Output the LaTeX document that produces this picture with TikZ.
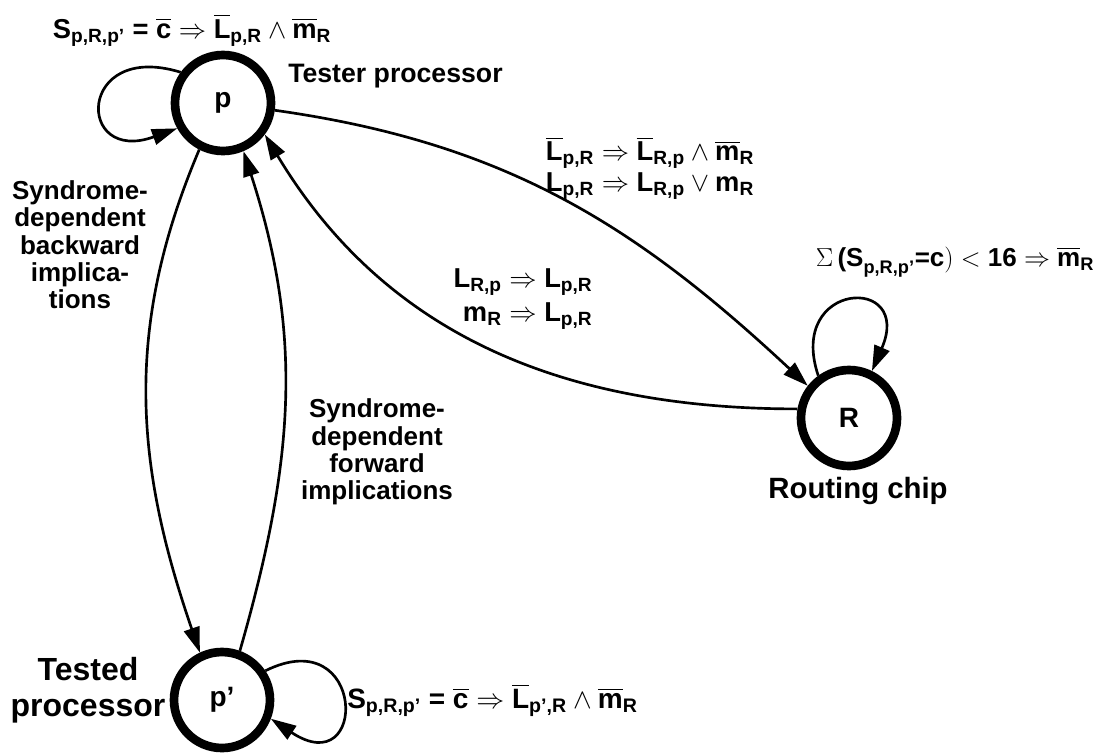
\RequirePackage{fix-cm}
\documentclass[tikz,border=0pt]{standalone}
\usepackage{amsmath}
\usepackage{fontspec}
\setmainfont{Liberation Sans}
\usetikzlibrary{arrows.meta}

% bold sans letters inside formulas
\newcommand{\tx}[1]{\text{#1}}
\newcommand{\nb}[1]{\overline{\text{#1}}}

\tikzset{
  state/.style={circle, draw, line width=6.5pt, minimum size=72pt, inner sep=0pt,
    font=\fontsize{21}{24}\selectfont\bfseries},
  lbl/.style={font=\fontsize{19.5}{20.5}\selectfont\bfseries, align=center, inner sep=0pt},
  rule/.style={font=\fontsize{20.5}{22}\selectfont\bfseries, align=center, inner sep=0pt},
  link/.style={line width=2pt, -{Triangle[length=19pt,width=12pt]}}
}

\begin{document}
\begin{tikzpicture}[x=0.75pt, y=0.75pt]
    \useasboundingbox (0,0) rectangle (1109,-753);

    % The three nodes
    \node[state] (p) at (223,-103) {p};
    \node[state] (R) at (849,-418) {R};
    \node[state] (pp) at (222,-700) {p’};

    % Names of the nodes
    \node[lbl, font=\fontsize{20}{22}\selectfont\bfseries, anchor=west] (tester) at (288,-76) {Tester processor};
    \node[lbl, font=\fontsize{22}{24}\selectfont\bfseries] (routing) at (858,-491) {Routing chip};
    \node[lbl, font=\fontsize{24}{27}\selectfont\bfseries] (tested) at (88,-690) {Tested\\processor};

    % Self loops
    \draw[link] (p.144) .. controls +(-104,32) and +(-102,-37) .. (p.209);
    \node[rule] (loopp) at (192,-30)
      {$\tx{S}_{\tx{p,R,p’}} \mathrel{\tx{=}} \nb{c} \Rightarrow \nb{L}_{\tx{p,R}} \wedge \nb{m}_{\tx{R}}$};

    \draw[link] (R.126) .. controls +(-32,95) and +(42,97) .. (R.64);
    \node[rule, font=\fontsize{19.5}{21}\selectfont\bfseries] (loopR) at (955,-262)
      {$\Sigma\,\tx{(S}_{\tx{p,R,p’}}\tx{=c}) < \tx{16} \Rightarrow \nb{m}_{\tx{R}}$};

    \draw[link] (pp.34) .. controls +(101,50) and +(98,-65) .. (pp.-21);
    \node[rule, font=\fontsize{21}{23}\selectfont\bfseries, anchor=west] (looppp) at (347,-700)
      {$\tx{S}_{\tx{p,R,p’}} \mathrel{\tx{=}} \nb{c} \Rightarrow \nb{L}_{\tx{p’,R}} \wedge \nb{m}_{\tx{R}}$};

    % Between p and the routing chip
    \draw[link] (p.-8) to[out=-8,in=137] (R.142);
    \node[rule] (toR) at (650,-168)
      {$\nb{L}_{\tx{p,R}} \Rightarrow \nb{L}_{\tx{R,p}} \wedge \nb{m}_{\tx{R}}$\\[1pt]
       $\tx{L}_{\tx{p,R}} \Rightarrow \tx{L}_{\tx{R,p}} \vee \tx{m}_{\tx{R}}$};

    \draw[link] (R.170) to[out=180,in=-59] (p.-37);
    \node[rule, align=right] (fromR) at (523,-299)
      {$\tx{L}_{\tx{R,p}} \Rightarrow \tx{L}_{\tx{p,R}}$\\[4pt]
       $\tx{m}_{\tx{R}} \Rightarrow \tx{L}_{\tx{p,R}}$};

    % Between the two processors
    \draw[link] (p.-117) to[out=-113,in=109] (pp.115);
    \node[lbl] (back) at (80,-245) {Syndrome-\\dependent\\backward\\implica-\\tions};

    \draw[link] (pp.70) to[out=74,in=-72] (p.-67);
    \node[lbl] (fwd) at (377,-452) {Syndrome-\\dependent\\forward\\implications};
\end{tikzpicture}
\end{document}
